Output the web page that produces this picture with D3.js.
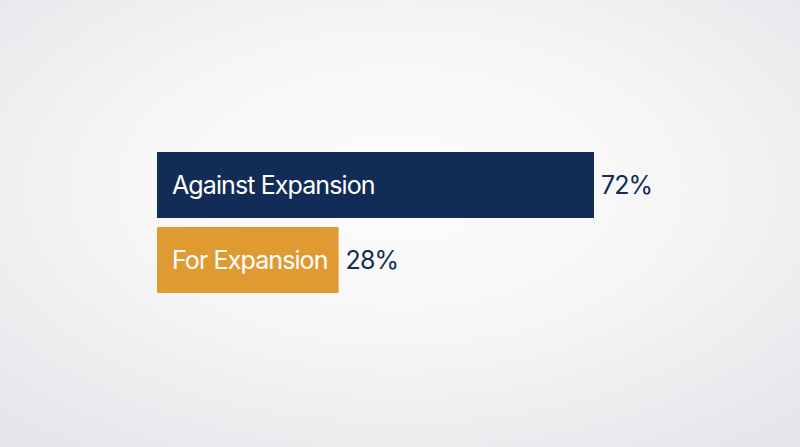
<!DOCTYPE html>
<html>
<head>
<meta charset="utf-8">
<script src="https://cdn.jsdelivr.net/npm/d3@7"></script>
<style>
  html, body { margin: 0; padding: 0; }
  svg { display: block; }
</style>
</head>
<body>
<svg id="chart"></svg>
<script>
// data
const categories = ["Against Expansion", "For Expansion"];
const values = [72, 28];
const valueLabels = ["72%", "28%"];
const colors = ["#102c57", "#e09a32"];

const width = 800, height = 447;
const barLeft = 157, barHeight = 66, barGap = 9, barTop = 152;
const padL = 15, padR = 11;

const svg = d3.select("#chart")
    .attr("width", width)
    .attr("height", height);

// background glow
const defs = svg.append("defs");
const grad = defs.append("radialGradient")
    .attr("id", "bg")
    .attr("cx", "50%").attr("cy", "42%").attr("r", "70%");
grad.append("stop").attr("offset", "0%").attr("stop-color", "#fcfcfc");
grad.append("stop").attr("offset", "45%").attr("stop-color", "#f7f7f8");
grad.append("stop").attr("offset", "100%").attr("stop-color", "#e5e7ea");
svg.append("rect")
    .attr("width", width).attr("height", height)
    .attr("fill", "url(#bg)");

const x = d3.scaleLinear()
    .domain([0, 72])
    .range([0, 437]);

const y = d3.scaleBand()
    .domain(categories)
    .range([barTop, barTop + 2 * barHeight + barGap])
    .paddingInner(barGap / (barHeight + barGap));

const rows = svg.append("g")
    .selectAll("g")
    .data(categories)
    .join("g");

const font = "Inter, 'Liberation Sans', sans-serif";

// labels first so bar widths can fit them
const labels = rows.append("text")
    .attr("x", barLeft + padL)
    .attr("y", d => y(d) + y.bandwidth() / 2)
    .attr("dy", "0.36em")
    .attr("fill", "#ffffff")
    .style("font-family", font)
    .style("font-size", "25px")
    .style("letter-spacing", "-0.9px")
    .text(d => d);

const barW = [];
labels.each(function (d, i) {
    const tw = this.getComputedTextLength();
    barW[i] = Math.max(x(values[i]), tw + padL + padR);
});

rows.insert("rect", "text")
    .attr("x", barLeft)
    .attr("y", d => y(d))
    .attr("width", (d, i) => barW[i])
    .attr("height", y.bandwidth())
    .attr("fill", (d, i) => colors[i]);

rows.append("text")
    .attr("x", (d, i) => barLeft + barW[i] + 7)
    .attr("y", d => y(d) + y.bandwidth() / 2)
    .attr("dy", "0.36em")
    .attr("fill", "#102c57")
    .style("font-family", font)
    .style("font-size", "25px")
    .style("letter-spacing", "-0.9px")
    .text((d, i) => valueLabels[i]);
</script>
</body>
</html>
